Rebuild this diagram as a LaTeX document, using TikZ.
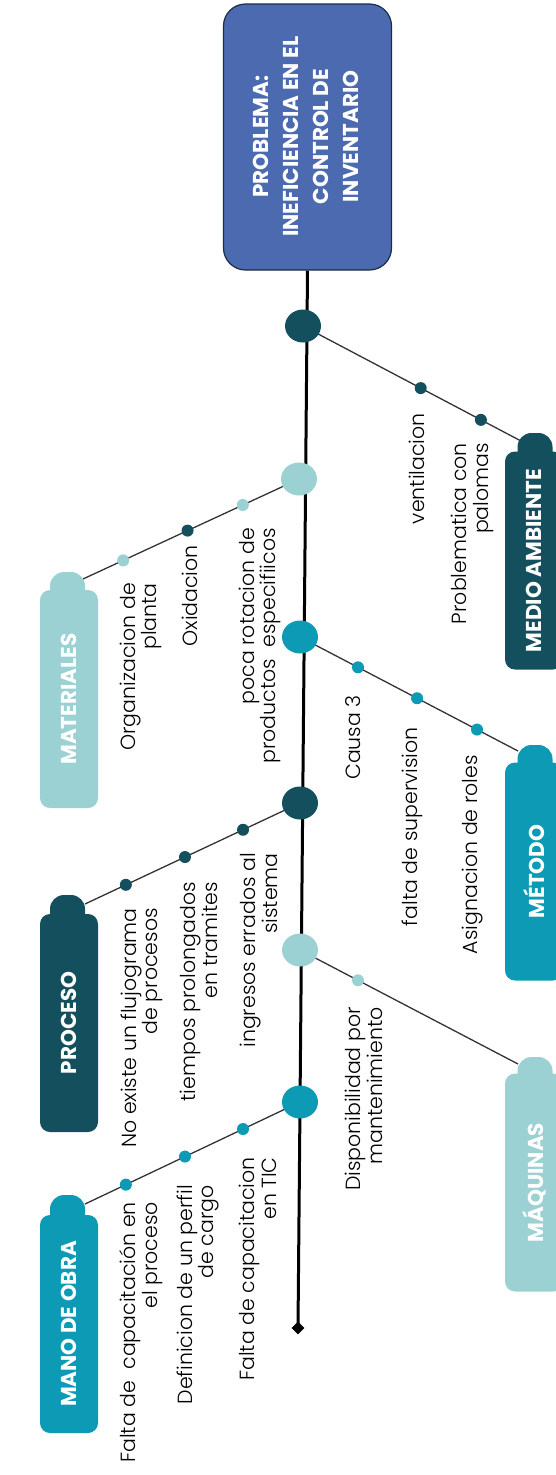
\documentclass[tikz,border=0pt]{standalone}
\usepackage{fontspec}
\setmainfont{Poppins}
\newfontfamily\lightfont{Poppins Light}
\usetikzlibrary{calc,backgrounds,shapes.geometric}
\definecolor{cdark}{HTML}{134F5C}
\definecolor{cteal}{HTML}{0C9AB5}
\definecolor{clight}{HTML}{9CD1D4}
\definecolor{cblue}{HTML}{4B6AB0}
\definecolor{cborder}{HTML}{1E2B45}
\begin{document}
\begin{tikzpicture}[x=1pt,y=-1pt,
  spine/.style={line width=3pt,black},
  branch/.style={line width=1.3pt,black!80},
  hub/.style={ellipse,minimum width=36pt,minimum height=33pt,inner sep=0},
  dot/.style={circle,minimum size=12pt,inner sep=0},
  catbody/.style={rectangle,rounded corners=10pt,rotate=90,minimum width=218pt,minimum height=58pt,text=white,font=\bfseries\fontsize{21.5}{23}\selectfont,inner sep=0},
  bump/.style={rectangle,rounded corners=14pt,minimum width=35pt,minimum height=44pt,inner sep=0},
  lbl/.style={rotate=90,anchor=east,align=right,inner sep=0,font=\lightfont\fontsize{20.5}{21.5}\selectfont},
]
\useasboundingbox (0,0) rectangle (556,1475);
\clip (0,0) rectangle (556,1475);

% problem box
\node[draw=cborder,line width=1.2pt,fill=cblue,rounded corners=22pt,minimum width=168pt,minimum height=266pt,inner sep=0] (prob) at (307.5,137) {};
\node[rotate=90,text=white,font=\bfseries\fontsize{21.5}{30}\selectfont,align=center,inner sep=0] (probtxt) at (306,136.5) {PROBLEMA:\\INEFICIENCIA EN EL\\CONTROL DE\\INVENTARIO};

\node[diamond,fill=black,minimum size=13pt,inner sep=0] (tail) at (298,1328) {};

% hubs
\node[hub,fill=cdark] (h1) at (303,326) {};
\node[hub,fill=clight] (h2) at (299,479) {};
\node[hub,fill=cteal] (h3) at (300,637) {};
\node[hub,fill=cdark] (h4) at (300,803) {};
\node[hub,fill=clight] (h5) at (300,950) {};
\node[hub,fill=cteal] (h6) at (300,1102) {};

% category boxes
\node[bump,fill=cdark] (mab) at (535,455) {};
\node[catbody,fill=cdark] (ma) at (534,560.5) {MEDIO AMBIENTE};
\coordinate (maend) at (521,441);
\node[bump,fill=cteal] (meb) at (535,767) {};
\node[catbody,fill=cteal] (me) at (534,871.5) {MÉTODO};
\coordinate (meend) at (518,751);
\node[bump,fill=clight] (mqb) at (535,1079) {};
\node[catbody,fill=clight] (mq) at (534,1182.5) {MÁQUINAS};
\coordinate (mqend) at (518,1064);
\node[bump,fill=clight] (mtb) at (67.5,594) {};
\node[catbody,fill=clight] (mt) at (69,699) {MATERIALES};
\coordinate (mtend) at (83,579);
\node[bump,fill=cdark] (prb) at (67.5,917) {};
\node[catbody,fill=cdark] (pr) at (69,1023) {PROCESO};
\coordinate (prend) at (85,904);
\node[bump,fill=cteal] (mob) at (67.5,1217) {};
\node[catbody,fill=cteal] (mo) at (69,1324) {MANO DE OBRA};
\coordinate (moend) at (85,1204);

% dots
\node[dot,fill=cdark] (ma1) at ($(h1)!0.54!(maend)$) {};
\node[dot,fill=cdark] (ma2) at ($(h1)!0.816!(maend)$) {};
\node[dot,fill=clight] (mt1) at ($(h2)!0.26!(mtend)$) {};
\node[dot,fill=cdark] (mt2) at ($(h2)!0.516!(mtend)$) {};
\node[dot,fill=clight] (mt3) at ($(h2)!0.814!(mtend)$) {};
\node[dot,fill=cteal] (me1) at ($(h3)!0.266!(meend)$) {};
\node[dot,fill=cteal] (me2) at ($(h3)!0.537!(meend)$) {};
\node[dot,fill=cteal] (me3) at ($(h3)!0.812!(meend)$) {};
\node[dot,fill=cdark] (pr1) at ($(h4)!0.265!(prend)$) {};
\node[dot,fill=cdark] (pr2) at ($(h4)!0.535!(prend)$) {};
\node[dot,fill=cdark] (pr3) at ($(h4)!0.81!(prend)$) {};
\node[dot,fill=clight] (mq1) at ($(h5)!0.266!(mqend)$) {};
\node[dot,fill=cteal] (mo1) at ($(h6)!0.265!(moend)$) {};
\node[dot,fill=cteal] (mo2) at ($(h6)!0.535!(moend)$) {};
\node[dot,fill=cteal] (mo3) at ($(h6)!0.81!(moend)$) {};

% labels
\node[lbl] (l1) at (417,413) {ventilacion};
\node[lbl] (l2) at (472.5,443) {Problematica con\\palomas};
\node[lbl] (l3) at (141,583) {Organizacion de\\planta};
\node[lbl] (l4) at (190,545) {Oxidacion};
\node[lbl] (l5) at (260,528) {poca rotacion de\\productos\ \ especifiicos};
\node[lbl] (l6) at (353,695) {Causa 3};
\node[lbl] (l7) at (412,727) {falta de supervision};
\node[lbl] (l8) at (473,755) {Asignacion de roles};
\node[lbl] (l9) at (142,908) {No existe un flujograma\\de procesos};
\node[lbl] (l10) at (199,882) {tiempos prolongados\\en tramites};
\node[lbl] (l11) at (259,853) {ingresos errados al\\sistema};
\node[lbl] (l12) at (364,1007) {Disponibilidad por\\mantenimiento};
\node[lbl] (l13) at (141,1202) {Falta de\ \ capacitación en\\el proceso};
\node[lbl] (l14) at (198,1185) {Definicion de un perfil\\de cargo};
\node[lbl] (l15) at (258,1157) {Falta de capacitacion\\en TIC};

\begin{pgfonlayer}{background}
\draw[spine] (prob.south) -- (tail.center);
\draw[branch] (h1.center) -- (maend);
\draw[branch] (h2.center) -- (mtend);
\draw[branch] (h3.center) -- (meend);
\draw[branch] (h4.center) -- (prend);
\draw[branch] (h5.center) -- (mqend);
\draw[branch] (h6.center) -- (moend);
\end{pgfonlayer}
\end{tikzpicture}
\end{document}
